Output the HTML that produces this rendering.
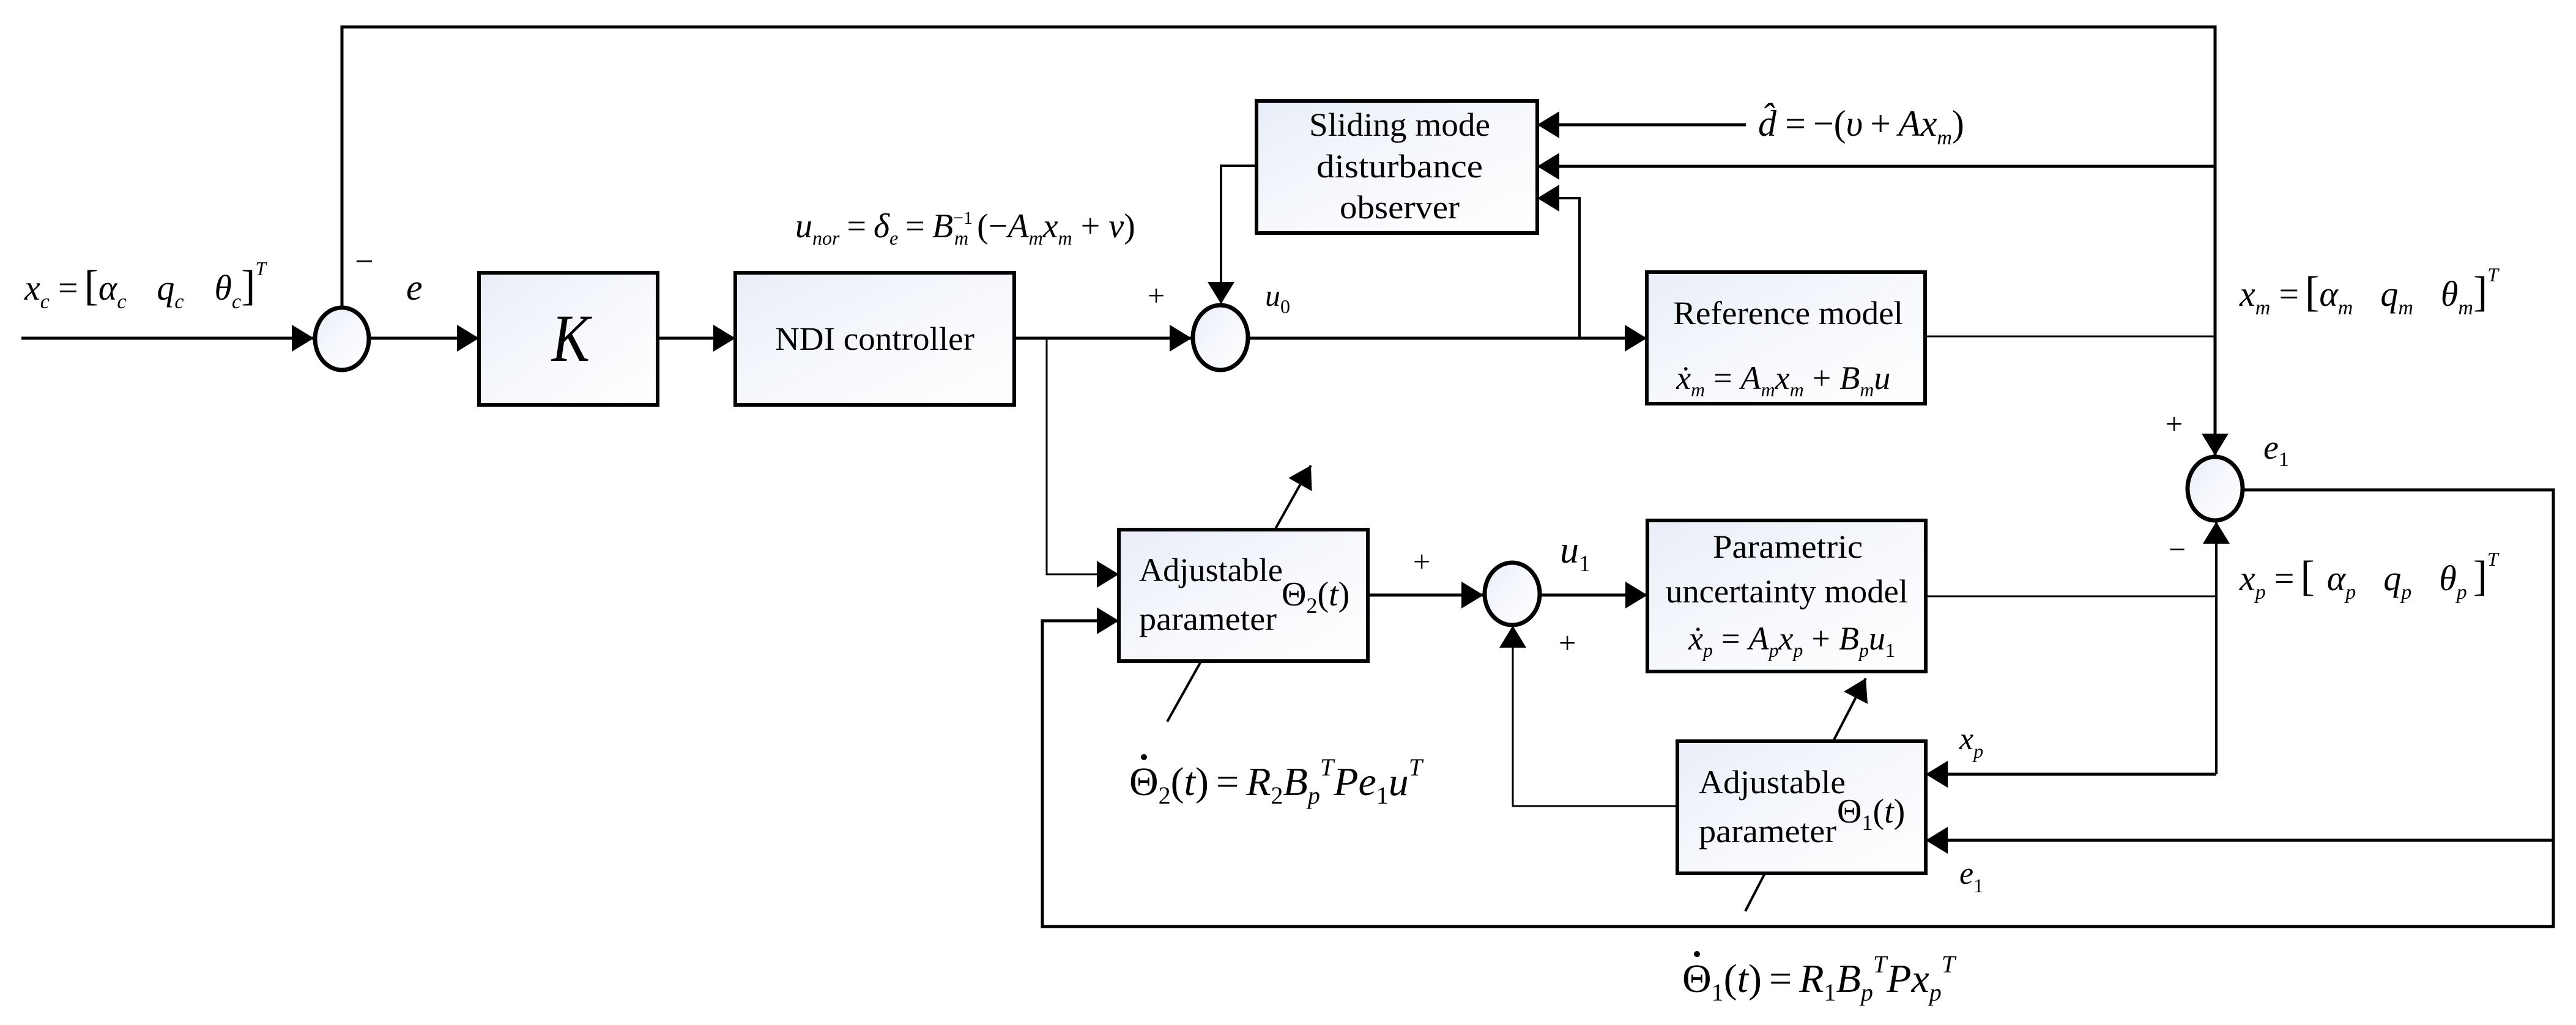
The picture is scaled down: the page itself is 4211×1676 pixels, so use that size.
<!DOCTYPE html>
<html><head><meta charset="utf-8"><style>
html,body{margin:0;padding:0;background:#fff}
svg{display:block}
text{font-family:"Liberation Serif",serif;fill:#000}
.i{font-style:italic}
</style></head><body>
<svg width="4211" height="1676" viewBox="0 0 4211 1676" xmlns="http://www.w3.org/2000/svg">
<defs>
<linearGradient id="g" x1="0" y1="0" x2="1" y2="1">
<stop offset="0" stop-color="#e8edf7"/><stop offset="0.5" stop-color="#f6f8fc"/><stop offset="1" stop-color="#ffffff"/>
</linearGradient>
<marker id="a" markerUnits="userSpaceOnUse" markerWidth="40" markerHeight="44" refX="36" refY="22" orient="auto">
<path d="M0,0 L36,22 L0,44 Z" fill="#000"/>
</marker>
</defs>
<g stroke="#000" fill="none" stroke-width="5">
<line x1="35" y1="553" x2="513" y2="553" marker-end="url(#a)"/>
<polyline points="559,500 559,44 3621,44 3621,745" marker-end="url(#a)"/>
<line x1="605" y1="553" x2="783" y2="553" marker-end="url(#a)"/>
<line x1="1075" y1="553" x2="1202" y2="553" marker-end="url(#a)"/>
<line x1="1658" y1="553" x2="1948" y2="553" marker-end="url(#a)"/>
<line x1="2042" y1="553" x2="2692" y2="553" marker-end="url(#a)"/>
<polyline points="1711,553 1711,939 1829,939" stroke-width="3" marker-end="url(#a)"/>
<polyline points="2054,271 1996,271 1996,497" stroke-width="4" marker-end="url(#a)"/>
<line x1="2854" y1="204" x2="2513" y2="204" marker-end="url(#a)"/>
<line x1="3621" y1="272" x2="2513" y2="272" marker-end="url(#a)"/>
<polyline points="2582,553 2582,324 2513,324" stroke-width="4" marker-end="url(#a)"/>
<line x1="3147" y1="550" x2="3621" y2="550" stroke-width="3"/>
<polyline points="3668,801 4174,801 4174,1515 1704,1515 1704,1015 1829,1015" marker-end="url(#a)"/>
<line x1="4174" y1="1374" x2="3148" y2="1374" marker-end="url(#a)"/>
<line x1="2236" y1="973" x2="2425" y2="973" marker-end="url(#a)"/>
<line x1="2519" y1="973" x2="2693" y2="973" marker-end="url(#a)"/>
<line x1="3148" y1="975" x2="3623" y2="975" stroke-width="3"/>
<polyline points="3623,1266 3623,853" stroke-width="4" marker-end="url(#a)"/>
<line x1="3623" y1="1266" x2="3148" y2="1266" marker-end="url(#a)"/>
<polyline points="2742,1318 2473,1318 2473,1023" stroke-width="3" marker-end="url(#a)"/>
<line x1="1908" y1="1180" x2="2143" y2="761" stroke-width="4" marker-end="url(#a)"/>
<line x1="2853" y1="1490" x2="3050" y2="1109" stroke-width="4" marker-end="url(#a)"/>
</g>
<g fill="url(#g)" stroke="#000" stroke-width="6">
<rect x="783" y="446" width="292" height="216"/>
<rect x="1202" y="446" width="456" height="216"/>
<rect x="2054" y="165" width="459" height="216"/>
<rect x="2692" y="445" width="455" height="215"/>
<rect x="1829" y="866" width="407" height="215"/>
<rect x="2693" y="851" width="455" height="247"/>
<rect x="2742" y="1212" width="406" height="216"/>
<ellipse cx="559" cy="554" rx="44" ry="51" stroke-width="7"/>
<ellipse cx="1995" cy="552" rx="45" ry="53" stroke-width="7"/>
<ellipse cx="3621" cy="799" rx="45" ry="52" stroke-width="7"/>
<ellipse cx="2472" cy="971" rx="45" ry="51" stroke-width="7"/>
</g>
<circle cx="1870" cy="1238" r="5" fill="#000"/>
<circle cx="2774" cy="1560" r="5" fill="#000"/>
<g font-size="54">
<text x="902" y="590" class="i" font-size="110" textLength="62" lengthAdjust="spacingAndGlyphs">K</text>
<text x="1267" y="572" textLength="326" lengthAdjust="spacingAndGlyphs">NDI controller</text>
<text x="2140" y="222" textLength="296" lengthAdjust="spacingAndGlyphs">Sliding mode</text>
<text x="2152" y="290" textLength="272" lengthAdjust="spacingAndGlyphs">disturbance</text>
<text x="2190" y="357" textLength="196" lengthAdjust="spacingAndGlyphs">observer</text>
<text x="2735" y="530" textLength="376" lengthAdjust="spacingAndGlyphs">Reference model</text>
<text x="2800" y="912" textLength="245" lengthAdjust="spacingAndGlyphs">Parametric</text>
<text x="2723" y="985" textLength="396" lengthAdjust="spacingAndGlyphs">uncertainty model</text>
<text x="1862" y="950" textLength="235" lengthAdjust="spacingAndGlyphs">Adjustable</text>
<text x="1862" y="1030" textLength="225" lengthAdjust="spacingAndGlyphs">parameter</text>
<text x="2777" y="1297" textLength="240" lengthAdjust="spacingAndGlyphs">Adjustable</text>
<text x="2777" y="1377" textLength="225" lengthAdjust="spacingAndGlyphs">parameter</text>
<text x="2095" y="990" font-size="56">Θ<tspan font-size="36" dy="12">2</tspan><tspan dy="-12">(</tspan><tspan class="i">t</tspan>)</text>
<text x="3003" y="1345" font-size="56">Θ<tspan font-size="36" dy="12">1</tspan><tspan dy="-12">(</tspan><tspan class="i">t</tspan>)</text>
<text x="2740" y="636" class="i" font-size="54">ẋ<tspan font-size="32" dy="12">m</tspan><tspan dy="-12" dx="14" font-style="normal">=</tspan><tspan dx="14">A</tspan><tspan font-size="32" dy="12">m</tspan><tspan dy="-12">x</tspan><tspan font-size="32" dy="12">m</tspan><tspan dy="-12" dx="14" font-style="normal">+</tspan><tspan dx="14">B</tspan><tspan font-size="32" dy="12">m</tspan><tspan dy="-12">u</tspan></text>
<text x="2760" y="1062" class="i" font-size="54">ẋ<tspan font-size="32" dy="12">p</tspan><tspan dy="-12" dx="14" font-style="normal">=</tspan><tspan dx="14">A</tspan><tspan font-size="32" dy="12">p</tspan><tspan dy="-12">x</tspan><tspan font-size="32" dy="12">p</tspan><tspan dy="-12" dx="14" font-style="normal">+</tspan><tspan dx="14">B</tspan><tspan font-size="32" dy="12">p</tspan><tspan dy="-12">u</tspan><tspan font-size="32" dy="12" font-style="normal">1</tspan></text>
<text x="40" y="490" class="i" font-size="58">x<tspan font-size="34" dy="14">c</tspan><tspan dy="-14" dx="14" font-style="normal">=</tspan><tspan dx="10" font-style="normal" font-size="70">[</tspan>α<tspan font-size="34" dy="14">c</tspan><tspan dy="-14" dx="50">q</tspan><tspan font-size="34" dy="14">c</tspan><tspan dy="-14" dx="50">θ</tspan><tspan font-size="34" dy="14">c</tspan><tspan dy="-14" font-style="normal" font-size="70">]</tspan><tspan font-size="32" dy="-40">T</tspan></text>
<text x="580" y="445" font-size="54">−</text>
<text x="664" y="490" class="i" font-size="60">e</text>
<text x="1300" y="388" class="i" font-size="56">u<tspan font-size="32" dy="12">nor</tspan><tspan dy="-12" dx="12" font-style="normal">=</tspan><tspan dx="12">δ</tspan><tspan font-size="32" dy="12">e</tspan><tspan dy="-12" dx="12" font-style="normal">=</tspan><tspan dx="12">B</tspan><tspan font-size="30" dy="-22" font-style="normal">−1</tspan><tspan font-size="32" dy="34" dx="-30">m</tspan><tspan dy="-12" dx="14" font-style="normal">(−</tspan>A<tspan font-size="32" dy="12">m</tspan><tspan dy="-12">x</tspan><tspan font-size="32" dy="12">m</tspan><tspan dy="-12" dx="14" font-style="normal">+</tspan><tspan dx="14">v</tspan><tspan font-style="normal">)</tspan></text>
<text x="1876" y="500" font-size="50">+</text>
<text x="2068" y="500" class="i" font-size="50">u<tspan font-size="32" dy="12" font-style="normal">0</tspan></text>
<text x="2874" y="222" class="i" font-size="60">d̂<tspan dx="14" font-style="normal">=</tspan><tspan dx="12" font-style="normal">−(</tspan>υ<tspan dx="12" font-style="normal">+</tspan><tspan dx="12">Ax</tspan><tspan font-size="34" dy="14">m</tspan><tspan dy="-14" font-style="normal">)</tspan></text>
<text x="3661" y="500" class="i" font-size="58">x<tspan font-size="34" dy="14">m</tspan><tspan dy="-14" dx="14" font-style="normal">=</tspan><tspan dx="10" font-style="normal" font-size="70">[</tspan>α<tspan font-size="34" dy="14">m</tspan><tspan dy="-14" dx="45">q</tspan><tspan font-size="34" dy="14">m</tspan><tspan dy="-14" dx="45">θ</tspan><tspan font-size="34" dy="14">m</tspan><tspan dy="-14" font-style="normal" font-size="70">]</tspan><tspan font-size="32" dy="-40">T</tspan></text>
<text x="3540" y="710" font-size="50">+</text>
<text x="3700" y="750" class="i" font-size="56">e<tspan font-size="34" dy="12" font-style="normal">1</tspan></text>
<text x="3545" y="915" font-size="50">−</text>
<text x="3661" y="965" class="i" font-size="58">x<tspan font-size="34" dy="14">p</tspan><tspan dy="-14" dx="14" font-style="normal">=</tspan><tspan dx="10" font-style="normal" font-size="70">[</tspan><tspan dx="20">α</tspan><tspan font-size="34" dy="14">p</tspan><tspan dy="-14" dx="45">q</tspan><tspan font-size="34" dy="14">p</tspan><tspan dy="-14" dx="45">θ</tspan><tspan font-size="34" dy="14">p</tspan><tspan dy="-14" dx="10" font-style="normal" font-size="70">]</tspan><tspan font-size="32" dy="-40">T</tspan></text>
<text x="2310" y="935" font-size="50">+</text>
<text x="2550" y="920" class="i" font-size="62">u<tspan font-size="38" dy="14" font-style="normal">1</tspan></text>
<text x="2548" y="1068" font-size="50">+</text>
<text x="3203" y="1225" class="i" font-size="52">x<tspan font-size="32" dy="14">p</tspan></text>
<text x="3203" y="1445" class="i" font-size="52">e<tspan font-size="32" dy="14" font-style="normal">1</tspan></text>
<text x="1846" y="1300" font-size="66">Θ<tspan font-size="40" dy="14">2</tspan><tspan dy="-14">(</tspan><tspan class="i">t</tspan>)<tspan dx="12">=</tspan><tspan dx="12" class="i">R</tspan><tspan font-size="40" dy="14">2</tspan><tspan dy="-14" class="i">B</tspan><tspan font-size="40" dy="14" class="i">p</tspan><tspan font-size="40" dy="-46" class="i">T</tspan><tspan dy="32" class="i">Pe</tspan><tspan font-size="40" dy="14">1</tspan><tspan dy="-14" class="i">u</tspan><tspan font-size="40" dy="-32" class="i">T</tspan></text>
<text x="2750" y="1622" font-size="66">Θ<tspan font-size="40" dy="14">1</tspan><tspan dy="-14">(</tspan><tspan class="i">t</tspan>)<tspan dx="12">=</tspan><tspan dx="12" class="i">R</tspan><tspan font-size="40" dy="14">1</tspan><tspan dy="-14" class="i">B</tspan><tspan font-size="40" dy="14" class="i">p</tspan><tspan font-size="40" dy="-46" class="i">T</tspan><tspan dy="32" class="i">Px</tspan><tspan font-size="40" dy="14" class="i">p</tspan><tspan font-size="40" dy="-46" class="i">T</tspan></text>
</g>
</svg>
</body></html>
